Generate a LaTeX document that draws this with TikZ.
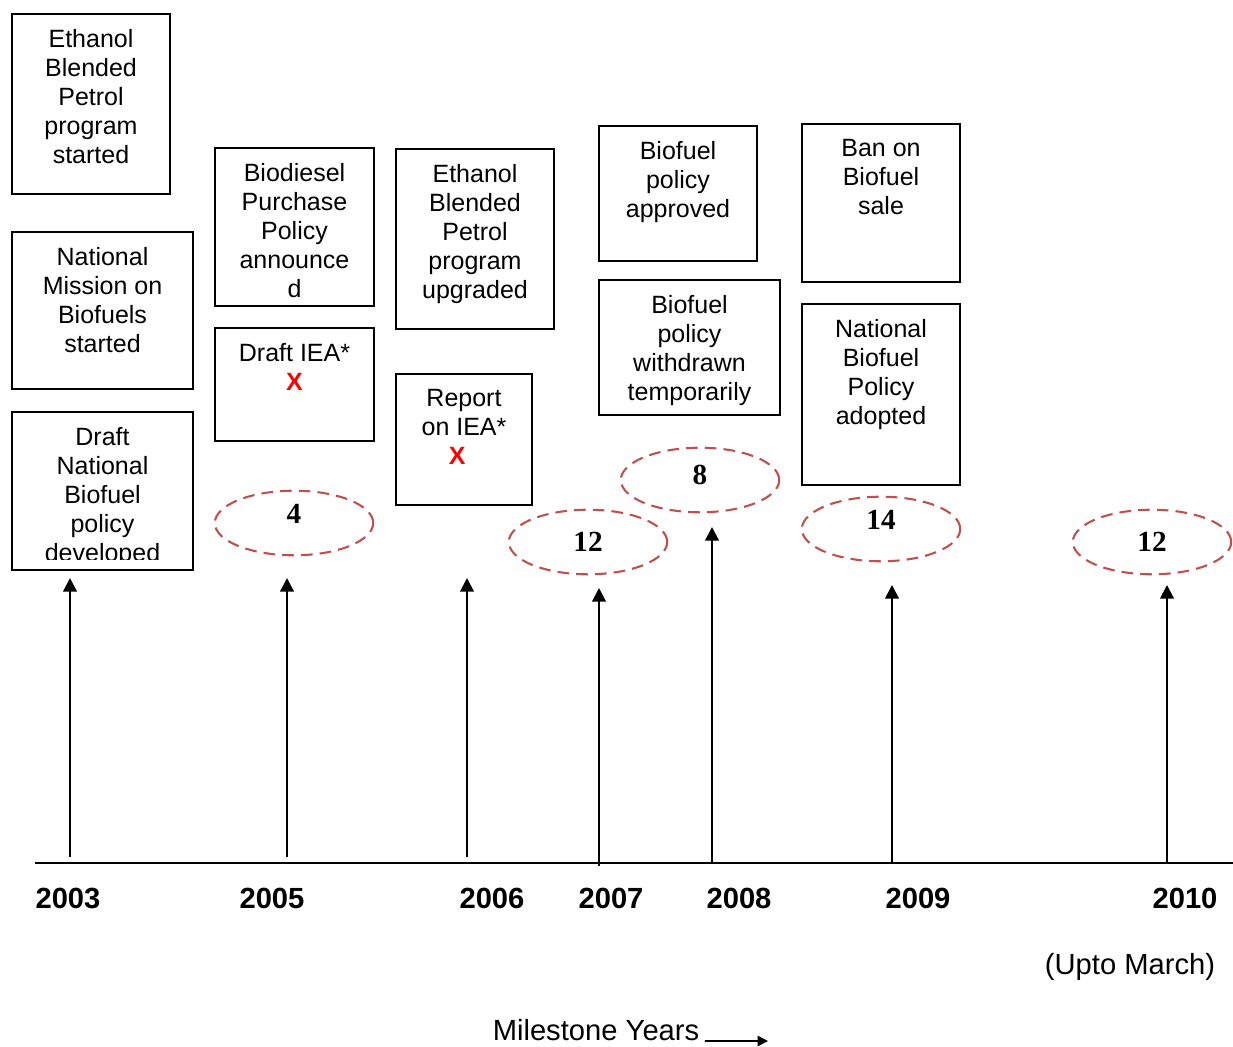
\documentclass[tikz,border=0pt]{standalone}
\usepackage{fontspec}
\setmainfont{Liberation Sans}
\newfontfamily\numfont{Liberation Serif}
\usepackage{tikz}
\usetikzlibrary{arrows.meta,positioning,shapes.geometric}
\definecolor{dashred}{HTML}{C0504D}
\definecolor{markred}{HTML}{FF0000}

\begin{document}
\begin{tikzpicture}[x=0.48pt,y=-0.48pt,
    eventbox/.style={draw,line width=0.8pt,inner sep=0pt},
    boxtext/.style={align=center,inner sep=0pt,font=\fontsize{12}{13.9}\selectfont},
    countring/.style={ellipse,draw=dashred,line width=1pt,dash pattern=on 5.6pt off 3.4pt,inner sep=0pt,minimum width=76pt,minimum height=31pt,font=\numfont\bfseries\fontsize{14}{16}\selectfont},
    yearlabel/.style={font=\bfseries\fontsize{14}{16}\selectfont},
    milearrow/.style={line width=1pt,-{Triangle[length=6.5pt,width=6.5pt]}}]
    \useasboundingbox (0,0) rectangle (1233,1046);
    % event boxes
    \node[eventbox,minimum width=75.8pt,minimum height=86.4pt] (b1) at (91,104) {};
    \node[eventbox,minimum width=86.9pt,minimum height=75.4pt] (b2) at (102.5,310.5) {};
    \node[eventbox,minimum width=86.9pt,minimum height=75.8pt] (b3) at (102.5,491) {};
    \node[eventbox,minimum width=76.3pt,minimum height=75.8pt] (b4) at (294.5,227) {};
    \node[eventbox,minimum width=76.3pt,minimum height=54.2pt] (b5) at (294.5,384.5) {};
    \node[eventbox,minimum width=75.8pt,minimum height=86.4pt] (b6) at (475,239) {};
    \node[eventbox,minimum width=65.3pt,minimum height=62.9pt] (b7) at (464,439.5) {};
    \node[eventbox,minimum width=75.8pt,minimum height=64.8pt] (b8) at (678,193.5) {};
    \node[eventbox,minimum width=86.9pt,minimum height=64.8pt] (b9) at (689.5,347.5) {};
    \node[eventbox,minimum width=75.8pt,minimum height=75.8pt] (b10) at (881,203) {};
    \node[eventbox,minimum width=75.8pt,minimum height=86.9pt] (b11) at (881,394.5) {};
    % box texts
    \node[boxtext,below=7.6pt of b1.north] (t1) {Ethanol\\Blended\\Petrol\\program\\started};
    \node[boxtext,below=7.6pt of b2.north] (t2) {National\\Mission on\\Biofuels\\started};
    \begin{scope}
      \clip (b3.north west) rectangle ([yshift=5.3pt]b3.south east);
      \node[boxtext,below=7.6pt of b3.north] (t3) {Draft\\National\\Biofuel\\policy\\developed};
    \end{scope}
    \node[boxtext,below=7.6pt of b4.north] (t4) {Biodiesel\\Purchase\\Policy\\announce\\d};
    \node[boxtext,below=7.6pt of b5.north] (t5) {Draft IEA*\\{\bfseries\color{markred}X}};
    \node[boxtext,below=7.6pt of b6.north] (t6) {Ethanol\\Blended\\Petrol\\program\\upgraded};
    \node[boxtext,below=7.6pt of b7.north] (t7) {Report\\on IEA*\\{\bfseries\color{markred}X}\hspace*{6.5pt}};
    \node[boxtext,below=7.6pt of b8.north] (t8) {Biofuel\\policy\\approved};
    \node[boxtext,below=7.6pt of b9.north] (t9) {Biofuel\\policy\\withdrawn\\temporarily};
    \node[boxtext,below=7.6pt of b10.north] (t10) {Ban on\\Biofuel\\sale};
    \node[boxtext,below=7.6pt of b11.north] (t11) {National\\Biofuel\\Policy\\adopted};
    % counts
    \node[countring,text depth=8.6pt] (c2005) at (294,523) {4};
    \node[countring] (c2007) at (588,542) {12};
    \node[countring,text depth=4.8pt] (c2008) at (700,480) {8};
    \node[countring,text depth=9.2pt] (c2009) at (881,529) {14};
    \node[countring] (c2010) at (1152,542) {12};
    % time axis
    \coordinate (axisL) at (35,863);
    \coordinate (axisR) at (1233,863);
    \draw[line width=0.8pt] (axisL) -- (axisR);
    % arrows from the axis
    \foreach \n/\x/\yb/\yt in {a/70/857/578,b/287/857/578,c/467/857/578,d/599/866/588,e/712/863/527,f/892/863/585,g/1167/863/585}
      {\coordinate (base\n) at (\x,\yb);
       \coordinate (tip\n) at (\x,\yt);
       \draw[milearrow] (base\n) -- (tip\n);}
    % years
    \foreach \x/\year in {68/2003,272/2005,492/2006,611/2007,739/2008,918/2009,1185/2010}
      {\node[yearlabel] (y\year) at (\x,898) {\year};}
    \node[font=\fontsize{14}{16}\selectfont] (upto) at (1130,967) {(Upto March)};
    \node[font=\fontsize{14}{16}\selectfont,anchor=base,inner sep=1pt] (miles) at (596,1040) {Milestone Years};
    \coordinate (milesend) at (768,1041);
    \draw[line width=0.8pt,-{Triangle[length=5pt,width=5pt]}] ([xshift=1.5pt,yshift=-0.5pt]miles.base east) -- (milesend);
\end{tikzpicture}
\end{document}
